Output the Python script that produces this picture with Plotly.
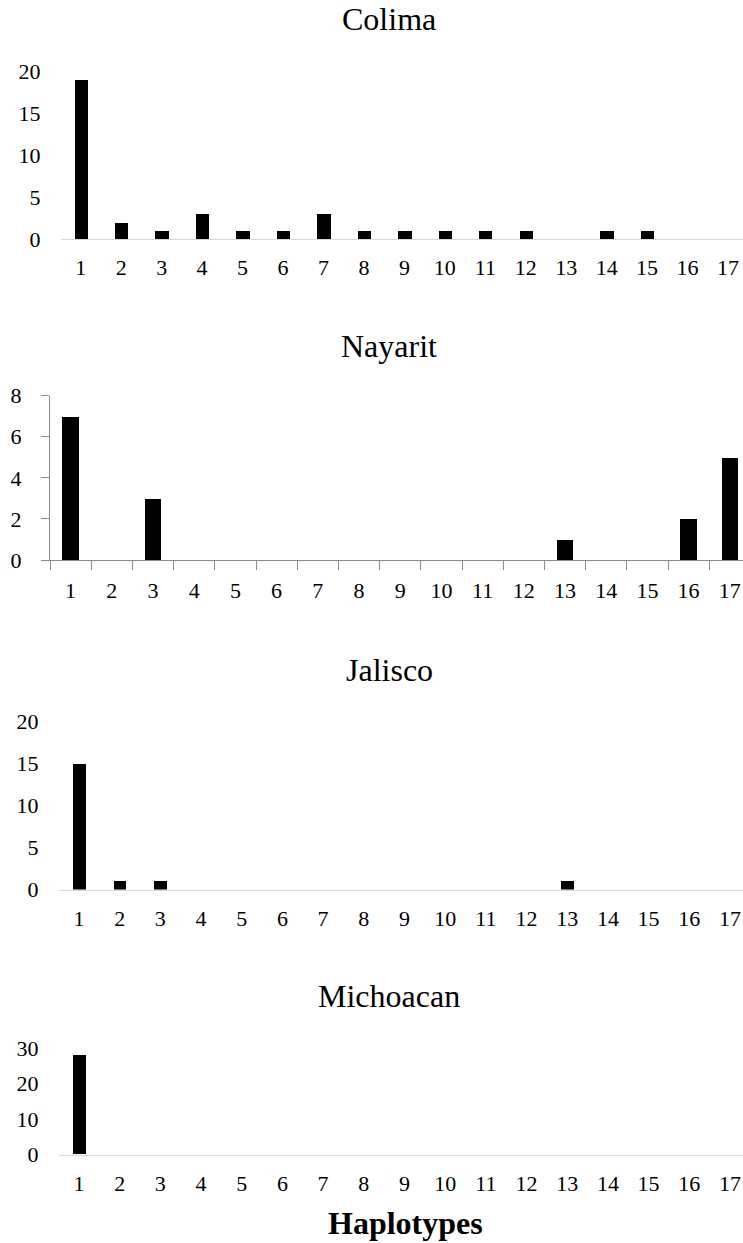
import plotly.graph_objects as go

W, H = 743, 1243

haplotypes = [str(i) for i in range(1, 18)]
colima    = [19, 2, 1, 3, 1, 1, 3, 1, 1, 1, 1, 1, 0, 1, 1, 0, 0]
nayarit   = [7, 0, 3, 0, 0, 0, 0, 0, 0, 0, 0, 0, 1, 0, 0, 2, 5]
jalisco   = [15, 1, 1, 0, 0, 0, 0, 0, 0, 0, 0, 0, 1, 0, 0, 0, 0]
michoacan = [28, 0, 0, 0, 0, 0, 0, 0, 0, 0, 0, 0, 0, 0, 0, 0, 0]

titles = ["Colima", "Nayarit", "Jalisco", "Michoacan"]
series = [colima, nayarit, jalisco, michoacan]
y_max = [20, 8, 20, 30]
y_dtick = [5, 2, 5, 10]

# layout in pixels (left, top, bottom, x_range_end, bar width, title middle y)
panels = [
    dict(left=60.5, top=71.7, bottom=239.0, xend=16.37, bw=0.33, ty=19.2, styled=False),
    dict(left=50.0, top=395.7, bottom=560.0, xend=16.32, bw=0.40, ty=345.9, styled=True),
    dict(left=58.6, top=721.7, bottom=889.5, xend=16.32, bw=0.315, ty=670.2, styled=False),
    dict(left=58.6, top=1048.3, bottom=1154.5, xend=16.32, bw=0.33, ty=996.2, styled=False),
]

FONT = "Liberation Serif, Times New Roman, serif"
TICK = 22
fig = go.Figure()
annotations = []
for i, (name, vals, p) in enumerate(zip(titles, series, panels)):
    n = "" if i == 0 else str(i + 1)
    fig.add_trace(go.Bar(x=haplotypes, y=vals, marker=dict(color="black", line=dict(width=0)),
                         width=p["bw"], xaxis="x" + n, yaxis="y" + n, showlegend=False,
                         hoverinfo="skip"))
    light = "#d9d9d9"
    dark = "#8c8c8c"
    xa = dict(domain=[p["left"] / W, 1], range=[-0.5, p["xend"]], type="category",
              anchor="y" + n, showgrid=False, zeroline=False, showline=True,
              linecolor=dark if p["styled"] else light, linewidth=1,
              tickfont=dict(family=FONT, size=TICK, color="black"),
              fixedrange=True, automargin=False)
    ya = dict(domain=[1 - p["bottom"] / H, 1 - p["top"] / H], range=[0, y_max[i]],
              anchor="x" + n, showgrid=False, zeroline=False, dtick=y_dtick[i], tick0=0,
              tickfont=dict(family=FONT, size=TICK, color="black"), fixedrange=True,
              automargin=False)
    if p["styled"]:
        xa.update(ticks="outside", ticklen=9, tickcolor=dark, tickwidth=1,
                  tickson="boundaries", ticklabelstandoff=11)
        ya.update(showline=True, linecolor=dark, linewidth=1, ticks="outside",
                  ticklen=8, tickcolor=dark, tickwidth=1, ticklabelstandoff=15)
    else:
        xa.update(ticks="", ticklabelstandoff=9)
        ya.update(showline=False, ticks="", ticklabelstandoff=19)
    fig.layout["xaxis" + n] = xa
    fig.layout["yaxis" + n] = ya
    annotations.append(dict(text=name, x=389 / W, y=1 - p["ty"] / H, xref="paper", yref="paper",
                            xanchor="center", yanchor="middle", showarrow=False,
                            font=dict(family=FONT, size=32, color="black")))

annotations.append(dict(text="<b>Haplotypes</b>", x=405 / W, y=1 - 1222.5 / H, xref="paper",
                        yref="paper", xanchor="center", yanchor="middle", showarrow=False,
                        font=dict(family=FONT, size=32, color="black")))

fig.update_layout(width=W, height=H, margin=dict(l=0, r=0, t=0, b=0, pad=0, autoexpand=False),
                  paper_bgcolor="white", plot_bgcolor="white",
                  annotations=annotations, bargap=0)
fig.write_html("out.html", config={"displayModeBar": False},
               post_script="document.body.style.margin='0px';document.body.style.padding='0px';"
                           "document.body.style.overflow='hidden';")
